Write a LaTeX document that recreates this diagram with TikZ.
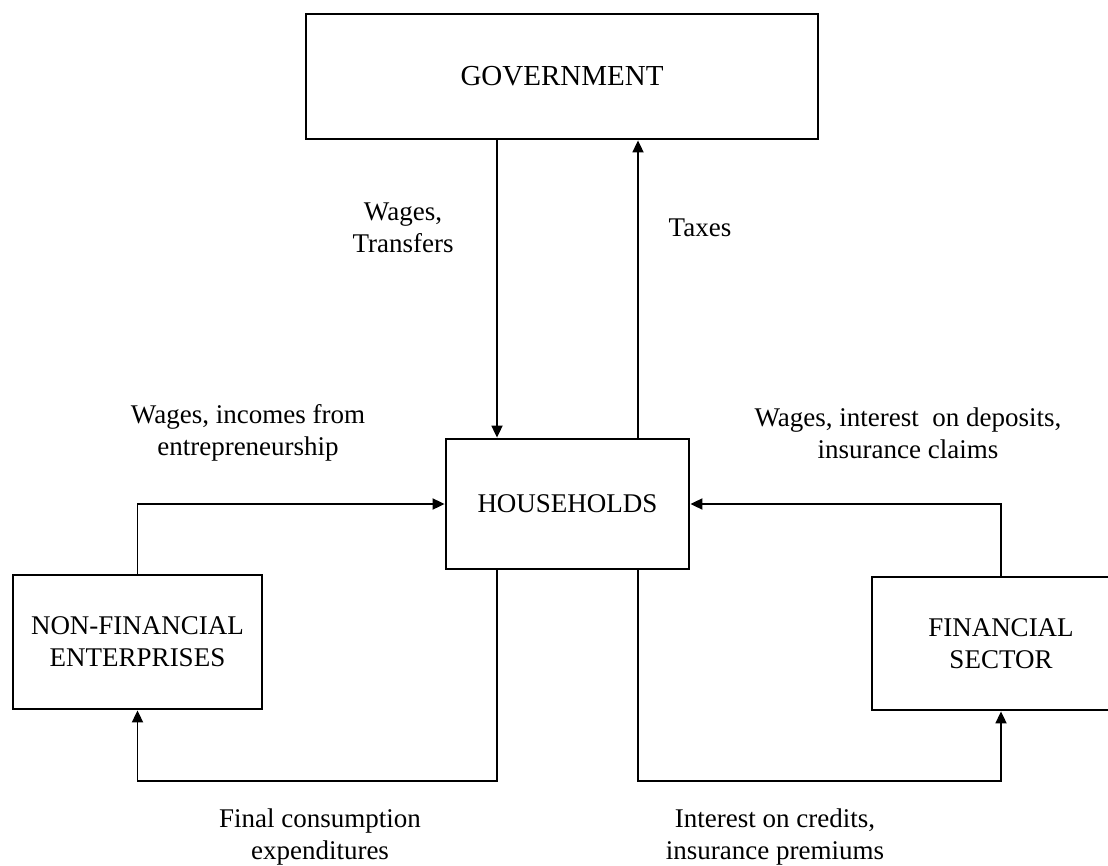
\documentclass[tikz,border=0pt]{standalone}
\usepackage{fontspec}
\setmainfont{Liberation Serif}
\usetikzlibrary{arrows.meta}

\begin{document}
\begin{tikzpicture}[x=0.5pt,y=-0.5pt,>={Triangle[length=6pt,width=5.5pt]},
    sbox/.style={draw,line width=1.4pt,rectangle,align=center,font=\fontsize{13.5}{16}\selectfont},
    flow/.style={->,line width=0.9pt},
    lbl/.style={align=center,inner sep=0pt,font=\fontsize{13.5}{16}\selectfont}]
    \useasboundingbox (0,0) rectangle (1108,866);

    \node[sbox,minimum width=256pt,minimum height=62.5pt,font=\fontsize{14.5}{17}\selectfont] (gov) at (562,76.5) {GOVERNMENT};
    \node[sbox,minimum width=121.5pt,minimum height=65pt] (hh) at (567.5,504) {HOUSEHOLDS};
    \node[sbox,minimum width=124.5pt,minimum height=67pt] (nfe) at (137.5,642) {NON-FINANCIAL\\ENTERPRISES};
    \node[sbox,minimum width=129pt,minimum height=66.5pt] (fs) at (1001,643.5) {FINANCIAL\\SECTOR};

    \coordinate (dn) at (497,0);
    \coordinate (up) at (638,0);
    \coordinate (bot) at (0,781);

    \draw[flow] (gov.south -| dn) -- (hh.north -| dn);
    \draw[flow] (hh.north -| up) -- (gov.south -| up);
    \draw[flow] (nfe.north) |- (hh.west);
    \draw[flow] (fs.north) |- (hh.east);
    \draw[flow] (hh.south -| dn) -- (bot -| dn) -| (nfe.south);
    \draw[flow] (hh.south -| up) -- (bot -| up) -| (fs.south);

    \node[lbl] (wt) at (403,228) {Wages,\\Transfers};
    \node[lbl] (tx) at (700,228) {Taxes};
    \node[lbl] (wi) at (248,433) {Wages, incomes from\\entrepreneurship};
    \node[lbl] (wd) at (908,433) {Wages, interest~ on deposits,\\insurance claims};
    \node[lbl] (fc) at (320,837) {Final consumption\\expenditures};
    \node[lbl] (ic) at (775,837) {Interest on credits,\\insurance premiums};
\end{tikzpicture}
\end{document}
